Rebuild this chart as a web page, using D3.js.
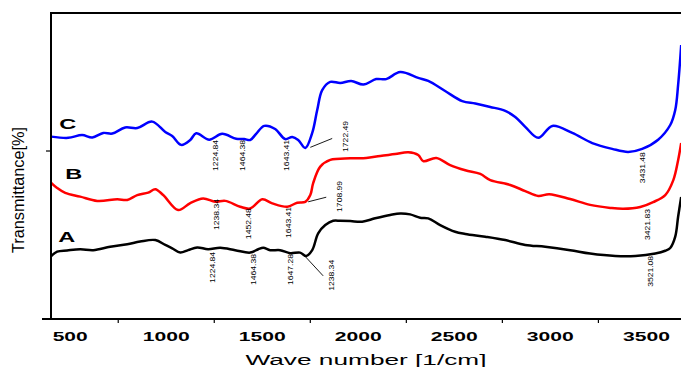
<!DOCTYPE html>
<html>
<head>
<meta charset="utf-8">
<script src="https://cdn.jsdelivr.net/npm/d3@7"></script>
<style>
  body { margin: 0; background: #fff; }
  text { font-family: "Liberation Sans", Arial, sans-serif; }
</style>
</head>
<body>
<div id="chart"></div>
<script>
const WIDTH = 681;
const HEIGHT = 367;
const margin = { left: 51, right: 0, top: 13, bottom: 48 };

// curve C (blue)
const waveC = [401, 490, 562, 615, 672, 719, 786, 849, 927, 995, 1031, 1078, 1125, 1156, 1224, 1291, 1364, 1406, 1437, 1468, 1510, 1567, 1619, 1656, 1687, 1724, 1760, 1786, 1812, 1854, 1906, 1963, 2026, 2093, 2145, 2218, 2312, 2364, 2452, 2541, 2609, 2687, 2765, 2817, 2869, 2937, 3010, 3114, 3218, 3322, 3405, 3478, 3561, 3624, 3650, 3665, 3681];
const transC = [59.6, 59.2, 60.1, 59.3, 60.8, 60.6, 62.6, 62.4, 64.5, 61.1, 59.8, 56.9, 58.5, 60.7, 58.6, 60.5, 58.9, 58.8, 58.5, 60.5, 63.1, 62.1, 58.8, 59.5, 58.5, 55.9, 60.8, 68.3, 74.8, 77.5, 77.1, 77.8, 76.6, 78.4, 78.4, 80.7, 78.8, 77.8, 74.5, 71.2, 70.4, 69.3, 68.0, 66.0, 62.8, 59.2, 63.1, 60.8, 57.5, 55.6, 54.6, 55.6, 58.6, 63.4, 68.3, 76.5, 89.5];

// curve B (red)
const waveB = [401, 432, 474, 552, 641, 745, 797, 849, 906, 943, 984, 1062, 1125, 1192, 1255, 1307, 1385, 1437, 1500, 1552, 1630, 1682, 1724, 1750, 1765, 1802, 1854, 1958, 2041, 2114, 2192, 2260, 2312, 2338, 2406, 2478, 2557, 2635, 2687, 2791, 2869, 2937, 2994, 3103, 3207, 3312, 3379, 3468, 3535, 3598, 3640, 3665, 3681];
const transB = [44.5, 42.8, 41.2, 40.0, 38.6, 39.1, 38.9, 40.5, 41.3, 42.4, 40.5, 35.6, 37.9, 39.4, 38.3, 38.6, 36.7, 36.1, 39.1, 37.8, 36.7, 38.0, 38.3, 40.5, 44.4, 49.8, 52.0, 52.5, 52.6, 53.3, 53.9, 54.5, 53.6, 51.6, 52.6, 50.3, 48.6, 47.4, 45.4, 43.8, 41.8, 40.2, 40.8, 39.2, 37.3, 36.3, 36.0, 36.6, 38.2, 40.5, 45.4, 51.9, 57.5];

// curve A (black)
const waveA = [401, 432, 484, 552, 620, 708, 797, 864, 943, 995, 1031, 1073, 1114, 1161, 1218, 1281, 1359, 1437, 1479, 1505, 1541, 1593, 1645, 1697, 1729, 1760, 1791, 1828, 1869, 1906, 1958, 2020, 2088, 2166, 2218, 2270, 2322, 2364, 2426, 2504, 2557, 2661, 2765, 2869, 2973, 3103, 3207, 3338, 3442, 3546, 3598, 3624, 3650, 3665, 3681];
const transA = [20.6, 22.0, 22.4, 22.8, 22.5, 23.6, 24.4, 25.3, 25.8, 24.2, 23.1, 21.7, 22.5, 23.4, 22.8, 23.3, 22.5, 21.7, 22.8, 23.3, 22.5, 22.5, 21.5, 21.7, 20.6, 22.5, 28.0, 30.7, 32.1, 32.1, 32.0, 31.8, 32.9, 34.0, 34.5, 34.2, 33.1, 32.9, 30.7, 28.5, 27.8, 26.9, 25.8, 24.2, 23.6, 22.5, 21.4, 20.6, 20.6, 21.4, 22.3, 23.2, 26.9, 33.4, 39.9];

// peak labels: text, wavenumber and transmittance where the rotated label starts
const peakText = ["1224.84", "1464.38", "1643.41", "1722.49", "3431.48",
                  "1238.34", "1452.48", "1643.41", "1708.99", "3421.83",
                  "1224.84", "1464.38", "1647.28", "1238.34", "3521.08"];
const peakWave = [1255, 1396, 1625, 1932, 3478,
                  1260, 1427, 1635, 1901, 3504,
                  1239, 1453, 1645, 1859, 3520];
const peakTrans = [48.4, 48.4, 48.4, 54.6, 44.4,
                   29.1, 26.1, 26.5, 35.0, 25.8,
                   11.8, 11.1, 11.1, 9.2, 10.5];

// leader lines [w1, t1, w2, t2]
const leaders = [[1750, 56.1, 1864, 59.0], [1739, 38.3, 1833, 39.8], [1724, 20.4, 1817, 14.1]];

const seriesNames = ["C", "B", "A"];
const seriesColors = ["#0000ff", "#ff0000", "#000000"];
const nameWave = [443, 474, 438];
const nameTrans = [62.1, 45.8, 25.2];

const majorTicks = [500, 1000, 1500, 2000, 2500, 3000, 3500];
const minorTicks = [750, 1250, 1750, 2250, 2750, 3250];

let x = d3.scaleLinear().domain([400, 3680]).range([margin.left, WIDTH - margin.right]);
let y = d3.scaleLinear().domain([0, 100]).range([HEIGHT - margin.bottom, margin.top]);

var svg = d3.select("#chart").append("svg")
  .attr("width", WIDTH)
  .attr("height", HEIGHT);

let line = d3.line()
  .x(d => x(d[0]))
  .y(d => y(d[1]))
  .curve(d3.curveCatmullRom.alpha(0.5));

let curves = [[waveC, transC], [waveB, transB], [waveA, transA]];
curves.forEach((c, i) => {
  svg.append("path")
    .datum(d3.zip(c[0], c[1]))
    .attr("fill", "none")
    .attr("stroke", seriesColors[i])
    .attr("stroke-width", 2.5)
    .attr("stroke-linejoin", "round")
    .attr("d", line);
});

/* frame */
const y0 = y(0);
svg.append("line")
  .attr("x1", x(400)).attr("x2", WIDTH).attr("y1", margin.top).attr("y2", margin.top)
  .attr("stroke", "#000").attr("stroke-width", 2);
svg.append("line")
  .attr("x1", x(400)).attr("x2", x(400)).attr("y1", margin.top - 1).attr("y2", y0)
  .attr("stroke", "#000").attr("stroke-width", 2);
svg.append("line")
  .attr("x1", 42).attr("x2", WIDTH).attr("y1", y0).attr("y2", y0)
  .attr("stroke", "#000").attr("stroke-width", 2);

// x axis: minor ticks + stretched bold labels
svg.selectAll(".minor")
  .data(minorTicks)
  .enter().append("line")
  .attr("x1", d => x(d)).attr("x2", d => x(d))
  .attr("y1", y0).attr("y2", y0 + 4)
  .attr("stroke", "#000").attr("stroke-width", 1.2);

svg.selectAll(".xlab")
  .data(majorTicks)
  .enter().append("text")
  .attr("x", d => x(d))
  .attr("y", 341)
  .attr("text-anchor", "middle")
  .attr("font-size", 12.5)
  .attr("font-weight", "bold")
  .attr("textLength", d => String(d).length == 3 ? 35 : 47)
  .attr("lengthAdjust", "spacingAndGlyphs")
  .text(d => d);

svg.append("text")
  .attr("x", (x(400) + WIDTH) / 2)
  .attr("y", 365)
  .attr("text-anchor", "middle")
  .attr("font-size", 14)
  .attr("textLength", 241)
  .attr("lengthAdjust", "spacingAndGlyphs")
  .text("Wave number [1/cm]");

// y axis: single tick
svg.append("line")
  .attr("x1", 46).attr("x2", x(400))
  .attr("y1", y(54.9)).attr("y2", y(54.9))
  .attr("stroke", "#000").attr("stroke-width", 1.2);

svg.append("text")
  .attr("transform", "translate(24,253) rotate(-90) scale(1,1.3)")
  .attr("font-size", 12)
  .attr("textLength", 126)
  .attr("lengthAdjust", "spacingAndGlyphs")
  .text("Transmittance[%]");

// series names
seriesNames.forEach((n, i) => {
  svg.append("text")
    .attr("x", x(nameWave[i]))
    .attr("y", y(nameTrans[i]))
    .attr("font-size", 14)
    .attr("font-weight", "bold")
    .attr("textLength", 17)
    .attr("lengthAdjust", "spacingAndGlyphs")
    .text(n);
});

// peak annotations
peakText.forEach((t, i) => {
  svg.append("text")
    .attr("transform", "translate(" + (x(peakWave[i]) + 2.5) + "," + y(peakTrans[i]) + ") rotate(-90)")
    .attr("font-size", 8)
    .attr("textLength", 31)
    .attr("lengthAdjust", "spacingAndGlyphs")
    .text(t);
});

leaders.forEach(l => {
  svg.append("line")
    .attr("x1", x(l[0])).attr("y1", y(l[1]))
    .attr("x2", x(l[2])).attr("y2", y(l[3]))
    .attr("stroke", "#000").attr("stroke-width", 0.9);
});
</script>
</body>
</html>
